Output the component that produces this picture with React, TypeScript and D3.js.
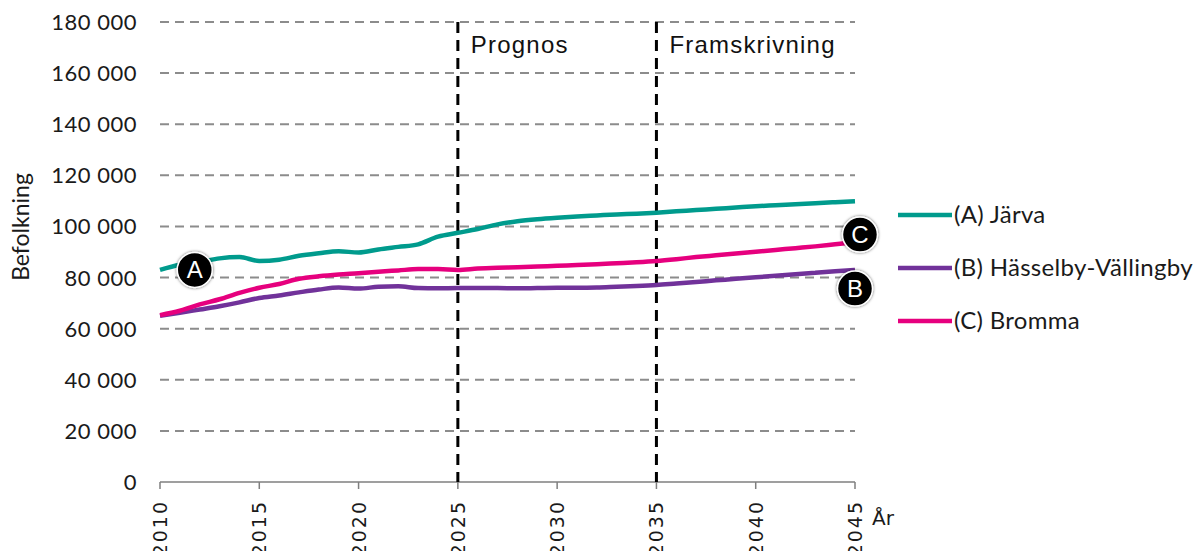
import React from "react";
import * as d3 from "d3";

const years = d3.range(2010, 2046);
const jarva = [83000, 85000, 86000, 87500, 88000, 86500, 87000, 88500, 89500, 90300, 89800, 91000, 92000, 93000, 96000, 97500, 99000, 100800, 102000, 102800, 103400, 103900, 104300, 104700, 105000, 105400, 105900, 106400, 106900, 107400, 107900, 108300, 108700, 109100, 109500, 109900];
const hasselby = [65000, 66200, 67500, 68800, 70300, 72000, 73000, 74200, 75300, 76100, 75700, 76400, 76600, 75900, 75800, 75900, 75900, 75900, 75800, 75900, 76000, 76000, 76100, 76400, 76700, 77100, 77700, 78300, 78900, 79500, 80100, 80700, 81300, 81900, 82500, 83000];
const bromma = [65300, 67000, 69500, 71500, 74000, 76000, 77500, 79500, 80500, 81200, 81700, 82300, 82800, 83300, 83300, 83000, 83500, 83800, 84000, 84300, 84600, 84900, 85200, 85600, 86000, 86500, 87200, 88000, 88700, 89400, 90100, 90800, 91500, 92200, 93000, 93800];
const yTicks = [0, 20000, 40000, 60000, 80000, 100000, 120000, 140000, 160000, 180000];
const xTicks = [2010, 2015, 2020, 2025, 2030, 2035, 2040, 2045];
const phases = [{ year: 2025, label: "Prognos" }, { year: 2035, label: "Framskrivning" }];
const series = [
  { key: "A", name: "(A) Järva", color: "#009B8D", values: jarva },
  { key: "B", name: "(B) Hässelby-Vällingby", color: "#71329A", values: hasselby },
  { key: "C", name: "(C) Bromma", color: "#E6007E", values: bromma },
];
const markers = [
  { key: "A", year: 2011.75, value: 83000 },
  { key: "C", year: 2045.25, value: 96800 },
  { key: "B", year: 2045, value: 75700 },
];

const W = 1199, H = 551;
const x = d3.scaleLinear().domain([2010, 2045]).range([160, 855]);
const y = d3.scaleLinear().domain([0, 180000]).range([482, 22]);
const fmt = (v: number) => d3.format(",")(v).replace(/,/g, " ");
const labelFont = "Lato, 'Open Sans', sans-serif";

export default function App() {
  const line = d3.line<number>().x((_, i) => x(years[i])).y((d) => y(d)).curve(d3.curveMonotoneX);
  return (
    <svg width={W} height={H} style={{ position: "absolute", left: 0, top: 0, background: "#fff" }}>
      <defs>
        <filter id="glow" x="-50%" y="-50%" width="200%" height="200%">
          <feDropShadow dx="0" dy="0" stdDeviation="1.5" floodColor="#000" floodOpacity="0.6" />
        </filter>
      </defs>
      {yTicks.filter((t) => t > 0).map((t) => (
        <line key={t} x1={x(2010)} x2={x(2045)} y1={y(t)} y2={y(t)} stroke="#8c8c8c" strokeWidth={2} strokeDasharray="9,6" />
      ))}
      <line x1={x(2010)} x2={x(2045)} y1={y(0)} y2={y(0)} stroke="#7f7f7f" strokeWidth={1.5} />
      {xTicks.map((t) => (
        <line key={t} x1={x(t)} x2={x(t)} y1={y(0)} y2={y(0) + 7} stroke="#7f7f7f" strokeWidth={1.5} />
      ))}
      {yTicks.map((t) => (
        <text key={t} x={137} y={y(t) + 8} textAnchor="end" fontFamily={labelFont} fontSize={22} letterSpacing={0.5} fill="#1a1a1a">{fmt(t)}</text>
      ))}
      <text transform="translate(29,227) rotate(-90)" textAnchor="middle" fontFamily={labelFont} fontSize={23} fill="#1a1a1a">Befolkning</text>
      {xTicks.map((t) => (
        <text key={t} transform={`translate(${x(t) + 7},500) rotate(-90)`} textAnchor="end" fontFamily="'DejaVu Sans', sans-serif" fontSize={19} letterSpacing={2} fill="#1a1a1a">{t}</text>
      ))}
      <text x={872} y={525} fontFamily="'DejaVu Sans', sans-serif" fontSize={20} fill="#1a1a1a">År</text>
      {phases.map((p) => (
        <g key={p.year}>
          <line x1={x(p.year)} x2={x(p.year)} y1={y(180000)} y2={y(0)} stroke="#000" strokeWidth={3} strokeDasharray="11,7" />
          <text x={x(p.year) + 13} y={53} fontFamily="'Liberation Sans', Arial, sans-serif" fontSize={24} letterSpacing={1.2} fill="#111">{p.label}</text>
        </g>
      ))}
      {series.map((s) => (
        <path key={s.key} d={line(s.values) || ""} fill="none" stroke={s.color} strokeWidth={4.5} />
      ))}
      {markers.map((m) => (
        <g key={m.key} transform={`translate(${x(m.year)},${y(m.value)})`}>
          <circle r={17.5} fill="#000" stroke="#fff" strokeWidth={1.5} filter="url(#glow)" />
          <text y={8.5} textAnchor="middle" fontFamily="'Liberation Sans', Arial, sans-serif" fontSize={24} fill="#fff">{m.key}</text>
        </g>
      ))}
      {series.map((s, i) => (
        <g key={s.key} transform={`translate(898,${215 + i * 53})`}>
          <line x1={0} x2={54} y1={0} y2={0} stroke={s.color} strokeWidth={4.5} />
          <text x={56} y={8} fontFamily={labelFont} fontSize={24} letterSpacing={0.3} fill="#1a1a1a">{s.name}</text>
        </g>
      ))}
    </svg>
  );
}
